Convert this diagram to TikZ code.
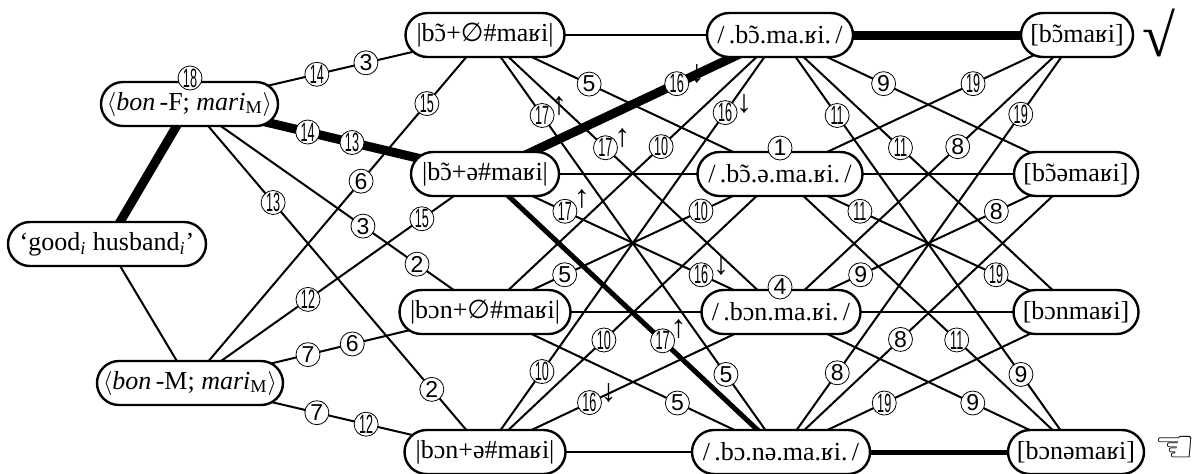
\documentclass[tikz,border=0pt]{standalone}
\usepackage{fontspec}
\usepackage{graphicx}
\setmainfont{Liberation Serif}
\newfontfamily\dvfont{DejaVu Sans}
\newfontfamily\numfont{Liberation Sans}
\usetikzlibrary{shapes.misc,backgrounds,calc}
\newcommand{\nas}{ɔ\kern-.42em\char"0303\kern.42em}
\newcommand{\nn}[1]{\scalebox{.55}[1.15]{#1}}
\tikzset{
	form/.style={draw,rounded rectangle,fill=white,line width=1.2pt,minimum height=22pt,inner xsep=0pt,inner ysep=0pt,font=\fontsize{13}{15}\selectfont},
	edge/.style={line width=1pt},
	heavy/.style={line width=4.5pt},
	medium/.style={line width=2.5pt},
	viol/.style={circle,draw,line width=.4pt,fill=white,inner sep=0pt,minimum size=12pt,font=\numfont\fontsize{11.5}{12}\selectfont},
	dirmark/.style={inner sep=0pt,font=\fontsize{16}{16}\selectfont}
}
\begin{document}
\begin{tikzpicture}[x=0.5pt,y=-0.5pt]
	\useasboundingbox (0,0) rectangle (1202,473);
	% input and the two candidates for it
	\node[form,minimum width=99pt] (good) at (107,244) {‘good\textsubscript{\textit{i}} husband\textsubscript{\textit{i}}’};
	\node[form,minimum width=88.5pt] (bonF) at (189.5,104) {$\big\langle$\textit{bon}\,-F; \textit{mari}\textsubscript{M}$\big\rangle$};
	\node[form,minimum width=93pt] (bonM) at (190,383) {$\big\langle$\textit{bon}\,-M; \textit{mari}\textsubscript{M}$\big\rangle$};
	% underlying forms
	\node[form,minimum width=79.5pt] (u1) at (485,35) {|b\nas+{\dvfont ∅}\#maʁi|};
	\node[form,minimum width=74pt] (u2) at (485,174) {|b\nas+ə\#maʁi|};
	\node[form,minimum width=85.5pt] (u3) at (485,312) {|bɔn+{\dvfont ∅}\#maʁi|};
	\node[form,minimum width=80.5pt] (u4) at (485,452) {|bɔn+ə\#maʁi|};
	% surface forms
	\node[form,minimum width=73pt] (s1) at (780,35) {/\,.b\nas.ma.ʁi.\,/};
	\node[form,minimum width=82.5pt] (s2) at (780,174) {/\,.b\nas.ə.ma.ʁi.\,/};
	\node[form,minimum width=79.5pt] (s3) at (781,312) {/\,.bɔn.ma.ʁi.\,/};
	\node[form,minimum width=89pt] (s4) at (781,452) {/\,.bɔ.nə.ma.ʁi.\,/};
	% phonetic forms
	\node[form,minimum width=56pt] (p1) at (1077,35) {[b\nas maʁi]};
	\node[form,minimum width=62pt] (p2) at (1076,174) {[b\nas əmaʁi]};
	\node[form,minimum width=62.5pt] (p3) at (1076,312) {[bɔnmaʁi]};
	\node[form,minimum width=68pt] (p4) at (1076,452) {[bɔnəmaʁi]};
	\node[inner sep=0pt,font=\fontsize{30}{30}\selectfont] (tick) at (1159,33) {√};
	\node[inner sep=0pt,font=\dvfont\fontsize{23}{23}\selectfont] (hand) at (1175,449) {☜};

	\begin{pgfonlayer}{background}
		\draw[heavy] (good.center) -- (bonF.center);
		\draw[edge] (good.center) -- (bonM.center);
		\draw[edge] (bonF.center) -- (u1.center);
		\draw[heavy] (bonF.center) -- (u2.center);
		\draw[edge] (bonF.center) -- (u3.center);
		\draw[edge] (bonF.center) -- (u4.center);
		\draw[edge] (bonM.center) -- (u1.center);
		\draw[edge] (bonM.center) -- (u2.center);
		\draw[edge] (bonM.center) -- (u3.center);
		\draw[edge] (bonM.center) -- (u4.center);

		\draw[edge] (u1.center) -- (s1.center);
		\draw[edge] (u1.center) -- (s2.center);
		\draw[edge] (u1.center) -- (s3.center);
		\draw[edge] (u1.center) -- (s4.center);
		\draw[heavy] (u2.center) -- (s1.center);
		\draw[edge] (u2.center) -- (s2.center);
		\draw[edge] (u2.center) -- (s3.center);
		\draw[medium] (u2.center) -- (s4.center);
		\draw[edge] (u3.center) -- (s1.center);
		\draw[edge] (u3.center) -- (s2.center);
		\draw[edge] (u3.center) -- (s3.center);
		\draw[edge] (u3.center) -- (s4.center);
		\draw[edge] (u4.center) -- (s1.center);
		\draw[edge] (u4.center) -- (s2.center);
		\draw[edge] (u4.center) -- (s3.center);
		\draw[edge] (u4.center) -- (s4.center);

		\draw[heavy] (s1.center) -- (p1.center);
		\draw[edge] (s1.center) -- (p2.center);
		\draw[edge] (s1.center) -- (p3.center);
		\draw[edge] (s1.center) -- (p4.center);
		\draw[edge] (s2.center) -- (p1.center);
		\draw[edge] (s2.center) -- (p2.center);
		\draw[edge] (s2.center) -- (p3.center);
		\draw[edge] (s2.center) -- (p4.center);
		\draw[edge] (s3.center) -- (p1.center);
		\draw[edge] (s3.center) -- (p2.center);
		\draw[edge] (s3.center) -- (p3.center);
		\draw[edge] (s3.center) -- (p4.center);
		\draw[edge] (s4.center) -- (p1.center);
		\draw[edge] (s4.center) -- (p2.center);
		\draw[edge] (s4.center) -- (p3.center);
		\draw[medium] (s4.center) -- (p4.center);
	\end{pgfonlayer}

	% violations between input forms and underlying forms
	\node[viol] (v18) at (190,78) {\nn{18}};
	\node[viol] (fa) at ($(bonF)!.431!(u1)$) {\nn{14}};
	\node[viol] (fb) at ($(bonF)!.597!(u1)$) {3};
	\node[viol] (fc) at ($(bonF)!.40!(u2)$) {\nn{14}};
	\node[viol] (fd) at ($(bonF)!.55!(u2)$) {\nn{13}};
	\node[viol] (fe) at ($(bonF)!.587!(u3)$) {3};
	\node[viol] (ff) at ($(bonF)!.77!(u3)$) {2};
	\node[viol] (fg) at ($(bonF)!.283!(u4)$) {\nn{13}};
	\node[viol] (fh) at ($(bonF)!.82!(u4)$) {2};
	\node[viol] (ma) at ($(bonM)!.58!(u1)$) {6};
	\node[viol] (mb) at ($(bonM)!.803!(u1)$) {\nn{15}};
	\node[viol] (mc) at ($(bonM)!.40!(u2)$) {\nn{12}};
	\node[viol] (md) at ($(bonM)!.786!(u2)$) {\nn{15}};
	\node[viol] (me) at ($(bonM)!.40!(u3)$) {7};
	\node[viol] (mf) at ($(bonM)!.55!(u3)$) {6};
	\node[viol] (mg) at ($(bonM)!.43!(u4)$) {7};
	\node[viol] (mh) at ($(bonM)!.597!(u4)$) {\nn{12}};
	% violations between underlying and surface forms
	\node[viol] (v1) at (780,148) {1};
	\node[viol] (v4) at (780,287) {4};
	\node[viol] (ua) at ($(u1)!.353!(s2)$) {5};
	\node[viol] (ub) at ($(u1)!.407!(s3)$) {\nn{17}};
	\node[viol] (uc) at ($(u1)!.193!(s4)$) {\nn{17}};
	\node[viol] (ud) at ($(u1)!.814!(s4)$) {5};
	\node[viol] (ue) at ($(u2)!.65!(s1)$) {\nn{16}};
	\node[viol] (uf) at ($(u2)!.27!(s3)$) {\nn{17}};
	\node[viol] (ug) at ($(u2)!.73!(s3)$) {\nn{16}};
	\node[viol] (uh) at ($(u2)!.60!(s4)$) {\nn{17}};
	\node[viol] (ui) at ($(u3)!.597!(s1)$) {\nn{10}};
	\node[viol] (uj) at ($(u3)!.27!(s2)$) {5};
	\node[viol] (uk) at ($(u3)!.732!(s2)$) {\nn{10}};
	\node[viol] (ul) at ($(u3)!.65!(s4)$) {5};
	\node[viol] (um) at ($(u4)!.193!(s1)$) {\nn{10}};
	\node[viol] (un) at ($(u4)!.814!(s1)$) {\nn{16}};
	\node[viol] (uo) at ($(u4)!.403!(s2)$) {\nn{10}};
	\node[viol] (up) at ($(u4)!.353!(s3)$) {\nn{16}};
	\node[dirmark] (a1) at ([shift={(17,-10)}]ub) {↑};
	\node[dirmark] (a2) at ([shift={(17,-10)}]uc) {↑};
	\node[dirmark] (a3) at ([shift={(20,-10)}]ue) {↓};
	\node[dirmark] (a4) at ([shift={(17,-12)}]uf) {↑};
	\node[dirmark] (a5) at ([shift={(20,-9)}]ug) {↓};
	\node[dirmark] (a6) at ([shift={(16,-12)}]uh) {↑};
	\node[dirmark] (a7) at ([shift={(19,-9)}]un) {↓};
	\node[dirmark] (a8) at ([shift={(19,-10)}]up) {↓};
	% violations between surface and phonetic forms
	\node[viol] (sa) at ($(s1)!.35!(p2)$) {9};
	\node[viol] (sb) at ($(s1)!.407!(p3)$) {\nn{11}};
	\node[viol] (sc) at ($(s1)!.193!(p4)$) {\nn{11}};
	\node[viol] (sd) at ($(s1)!.814!(p4)$) {9};
	\node[viol] (se) at ($(s2)!.65!(p1)$) {\nn{19}};
	\node[viol] (sf) at ($(s2)!.27!(p3)$) {\nn{11}};
	\node[viol] (sg) at ($(s2)!.73!(p3)$) {\nn{19}};
	\node[viol] (sh) at ($(s2)!.597!(p4)$) {\nn{11}};
	\node[viol] (si) at ($(s3)!.597!(p1)$) {8};
	\node[viol] (sj) at ($(s3)!.27!(p2)$) {9};
	\node[viol] (sk) at ($(s3)!.73!(p2)$) {8};
	\node[viol] (sl) at ($(s3)!.65!(p4)$) {9};
	\node[viol] (sm) at ($(s4)!.19!(p1)$) {8};
	\node[viol] (sn) at ($(s4)!.81!(p1)$) {\nn{19}};
	\node[viol] (so) at ($(s4)!.405!(p2)$) {8};
	\node[viol] (sp) at ($(s4)!.35!(p3)$) {\nn{19}};
\end{tikzpicture}
\end{document}
